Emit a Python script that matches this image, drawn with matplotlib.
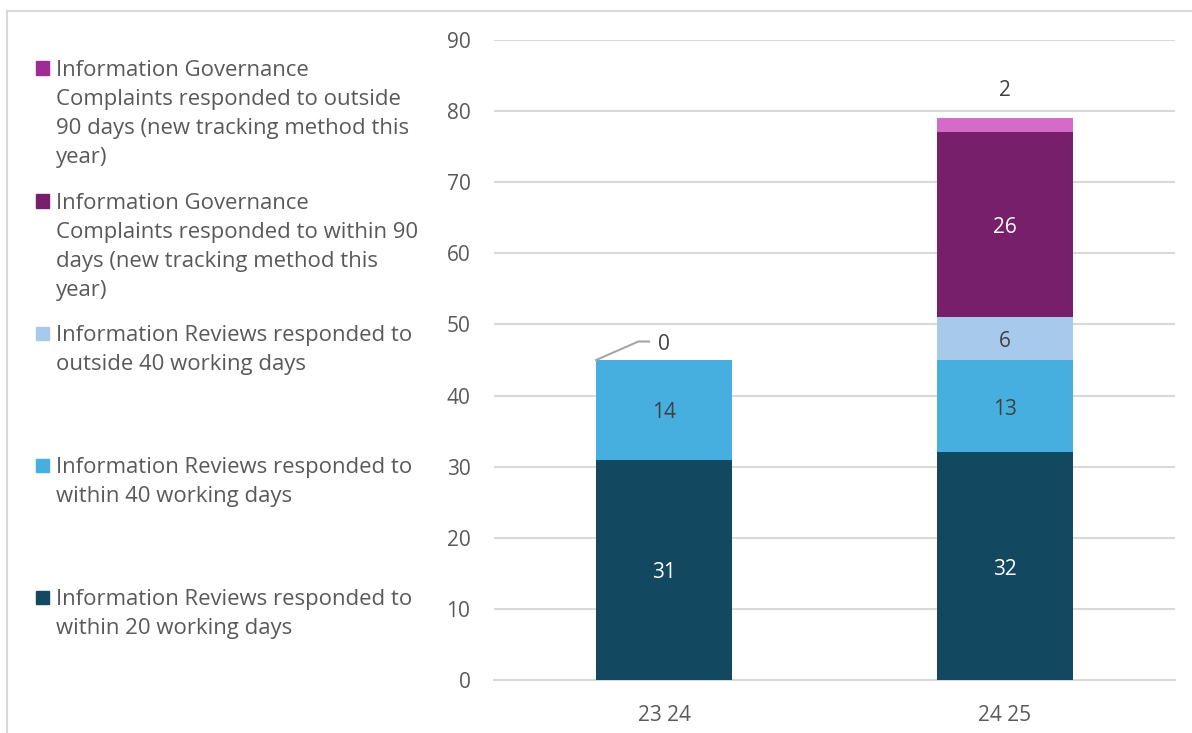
import matplotlib
matplotlib.use("Agg")
import matplotlib.pyplot as plt
from matplotlib.patches import Rectangle
from matplotlib.lines import Line2D
import numpy as np

plt.rcParams['font.family'] = ['Open Sans', 'DejaVu Sans']

categories = ["23 24", "24 25"]
series_names = [
    "Information Reviews responded to\nwithin 20 working days",
    "Information Reviews responded to\nwithin 40 working days",
    "Information Reviews responded to\noutside 40 working days",
    "Information Governance\nComplaints responded to within 90\ndays (new tracking method this\nyear)",
    "Information Governance\nComplaints responded to outside\n90 days (new tracking method this\nyear)",
]
within20 = [31, 32]
within40 = [14, 13]
outside40 = [0, 6]
ig_within90 = [0, 26]
ig_outside90 = [0, 2]
yticks = [0, 10, 20, 30, 40, 50, 60, 70, 80, 90]

series_values = [within20, within40, outside40, ig_within90, ig_outside90]
bar_colors = ["#134861", "#46AFE0", "#A7CAEC", "#771F6B", "#D56BC9"]
legend_colors = ["#134861", "#46AFE0", "#A7CAEC", "#771F6B", "#A02B93"]
label_colors = ["white", "#404040", "#404040", "white", "#404040"]

W, H = 1192, 733
fig = plt.figure(figsize=(W / 100, H / 100), dpi=100)
ax = fig.add_axes([494 / W, 1 - 680 / H, (1175 - 494) / W, (680 - 40) / H])

x = np.arange(len(categories))
bottom = np.zeros(len(categories))
for vals, col in zip(series_values, bar_colors):
    ax.bar(x, vals, width=0.40, bottom=bottom, color=col, zorder=3)
    bottom += np.array(vals)


def label(xv, yv, s, color):
    ax.annotate(s, (xv, yv), xytext=(0, -3), textcoords='offset pixels',
                ha='center', va='center', color=color, fontsize=15, zorder=4)


# data labels
bottom = np.zeros(len(categories))
for si, (vals, lc) in enumerate(zip(series_values, label_colors)):
    for ci, v in enumerate(vals):
        if v >= 5:
            label(x[ci], bottom[ci] + v / 2, str(v), lc)
    bottom += np.array(vals)

# outside labels
tot0 = sum(s[0] for s in series_values[:3])
label(x[0], tot0 + 2.6, str(outside40[0]), '#404040')
ax.plot([x[0] - 0.20, x[0] - 0.076, x[0] - 0.045], [tot0, tot0 + 2.6, tot0 + 2.6],
        color='#A6A6A6', lw=1.5, zorder=4, clip_on=False)
tot1 = sum(s[1] for s in series_values)
label(x[1], tot1 + 4.3, str(ig_outside90[1]), '#404040')

ax.set_xlim(-0.5, 1.5)
ax.set_ylim(0, 90)
ax.set_yticks(yticks)
ax.set_xticks(x)
ax.set_xticklabels(categories)
ax.yaxis.grid(True, color='#D9D9D9', lw=1.5, zorder=0)
for s in ['top', 'right', 'left']:
    ax.spines[s].set_visible(False)
ax.spines['bottom'].set_color('#D9D9D9')
ax.spines['bottom'].set_linewidth(1.5)
ax.tick_params(axis='both', length=0, labelsize=15, labelcolor='#595959')
ax.tick_params(axis='y', pad=17)
ax.tick_params(axis='x', pad=18)

# manual legend
entries = [
    (4, 68), (3, 201), (2, 333), (1, 465), (0, 597),
]
for si, yc in entries:
    fig.patches.append(Rectangle((36 / W, 1 - (yc + 6.5) / H), 13 / W, 13 / H,
                                 transform=fig.transFigure, color=legend_colors[si]))
    fig.text(56 / W, 1 - (yc - 8) / H, series_names[si], ha='left', va='top',
             fontsize=15.9, color='#595959', linespacing=1.5)

# outer frame
fig.add_artist(Line2D([7 / W, 1191 / W], [1 - 11 / H, 1 - 11 / H], transform=fig.transFigure,
                      color='#D9D9D9', lw=1.5))
fig.add_artist(Line2D([7 / W, 7 / W], [1 - 11 / H, 0], transform=fig.transFigure,
                      color='#D9D9D9', lw=1.5))

fig.savefig("out.png", dpi=100)
